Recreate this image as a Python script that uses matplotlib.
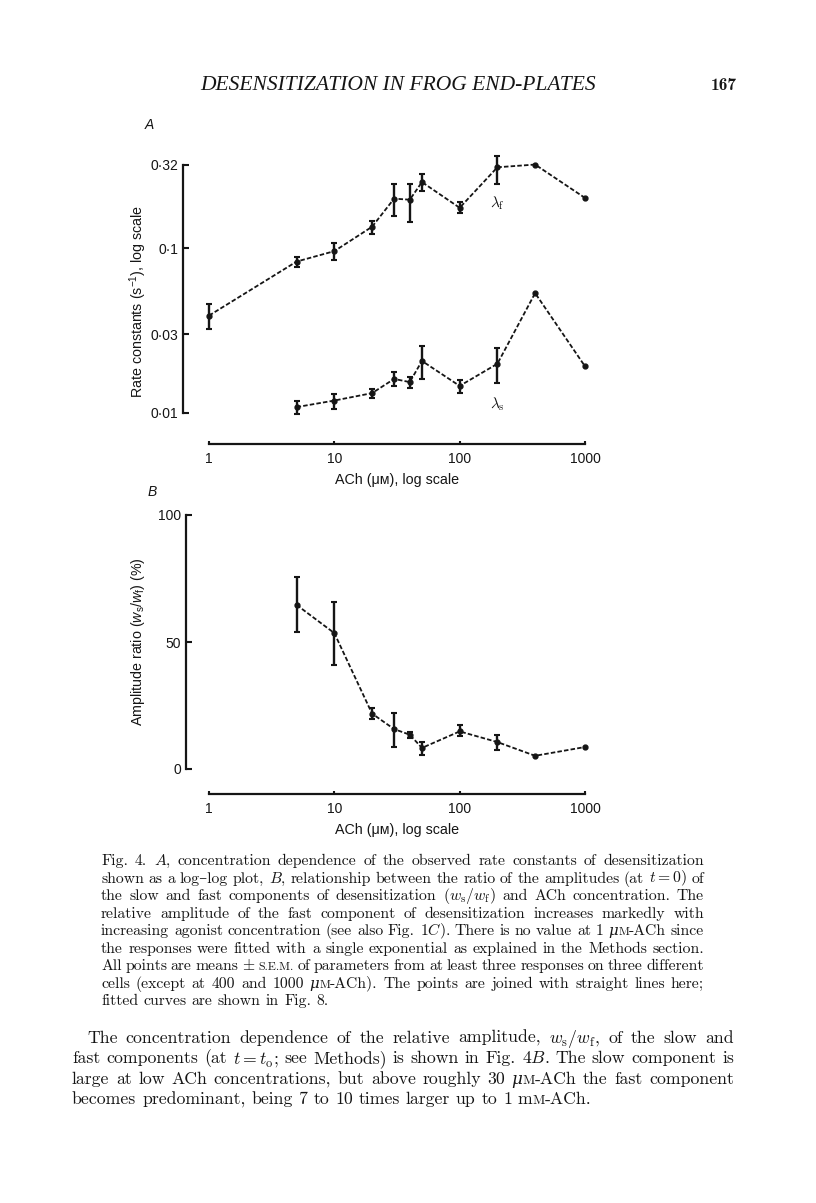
import numpy as np
import matplotlib
matplotlib.use('Agg')
import matplotlib.pyplot as plt
from matplotlib.ticker import NullLocator

W, H = 816, 1203
INK = '#151515'

# ---------------- data ----------------
conc_fast = [1, 5, 10, 20, 30, 40, 50, 100, 200, 400, 1000]
lam_fast = [0.039, 0.083, 0.096, 0.135, 0.200, 0.197, 0.252, 0.176, 0.310, 0.322, 0.202]
lam_fast_lo = [0.0323, 0.0764, 0.0846, 0.1227, 0.1567, 0.144, 0.222, 0.164, 0.2465, np.nan, np.nan]
lam_fast_hi = [0.0459, 0.089, 0.107, 0.146, 0.247, 0.246, 0.283, 0.192, 0.3635, np.nan, np.nan]

conc_slow = [5, 10, 20, 30, 40, 50, 100, 200, 400, 1000]
lam_slow = [0.01086, 0.0119, 0.0132, 0.0161, 0.0154, 0.0207, 0.0146, 0.0199, 0.0534, 0.0192]
lam_slow_lo = [0.0099, 0.0106, 0.01236, 0.0145, 0.0141, 0.0161, 0.0132, 0.0153, np.nan, np.nan]
lam_slow_hi = [0.01183, 0.0131, 0.01406, 0.0177, 0.0165, 0.0255, 0.0159, 0.0248, np.nan, np.nan]

conc_ratio = [5, 10, 20, 30, 40, 50, 100, 200, 400, 1000]
ratio = [64.6, 53.5, 21.8, 15.7, 13.5, 8.3, 14.8, 10.6, 5.2, 8.65]
ratio_lo = [53.9, 41.0, 19.8, 8.65, 12.2, 5.4, 12.8, 7.3, np.nan, np.nan]
ratio_hi = [75.6, 65.9, 24.0, 22.0, 14.5, 10.6, 17.3, 13.2, np.nan, np.nan]

x_ticks = [1, 10, 100, 1000]
x_ticklabels = ['1', '10', '100', '1000']
yA_ticks = [0.01, 0.03, 0.1, 0.32]
yA_ticklabels = ['0\u00b701', '0\u00b703', '0\u00b71', '0\u00b732']
yB_ticks = [0, 50, 100]
yB_ticklabels = ['0', '50', '100']

header_title = 'DESENSITIZATION IN FROG END-PLATES'
page_number = '167'

# '|' separates pieces of one word, '~' marks a small-capital piece, '^' an italic piece
caption_lines = [
    r"Fig. 4. $A$, concentration dependence of the observed rate constants of desensitization",
    "shown as a log\u2013log plot, " + r"$B$, relationship between the ratio of the amplitudes (at $t=0$) of",
    r"the slow and fast components of desensitization $(w_\mathrm{s}/w_\mathrm{f})$ and ACh concentration. The",
    r"relative amplitude of the fast component of desensitization increases markedly with",
    r"increasing agonist concentration (see also Fig. 1$C$). There is no value at 1 " + "^\u03bc|~M|-ACh since",
    r"the responses were fitted with a single exponential as explained in the Methods section.",
    r"All points are means $\pm$ ~S.E.M. of parameters from at least three responses on three different",
    "cells (except at 400 and 1000 ^\u03bc|~M|-ACh). The points are joined with straight lines here;",
    r"fitted curves are shown in Fig. 8.",
]
body_lines = [
    r"The concentration dependence of the relative amplitude, $w_\mathrm{s}/w_\mathrm{f}$, of the slow and",
    r"fast components (at $t=t_\mathrm{o}$; see Methods) is shown in Fig. 4$B$. The slow component is",
    "large at low ACh concentrations, but above roughly 30 ^\u03bc|~M|-ACh the fast component",
    "becomes predominant, being 7 to 10 times larger up to 1 m|~M|-ACh.",
]

# ---------------- style ----------------
plt.rcParams['mathtext.fontset'] = 'cm'
plt.rcParams['mathtext.rm'] = 'Liberation Sans'
plt.rcParams['mathtext.it'] = 'Liberation Sans:italic'
plt.rcParams['mathtext.bf'] = 'Liberation Sans:bold'
SANS = ['Liberation Sans', 'DejaVu Sans']
SERIF = ['cmr10', 'DejaVu Serif']
plt.rcParams['font.family'] = SANS
plt.rcParams['axes.formatter.use_mathtext'] = True

fig = plt.figure(figsize=(W / 100, H / 100), dpi=100)
fig.patch.set_facecolor('white')


def fx(x):
    return x / W


def fy(y):
    return 1 - y / H


def rect(x0, y0, x1, y1):
    return [x0 / W, 1 - y1 / H, (x1 - x0) / W, (y1 - y0) / H]


def style_axes(ax, left_px, bottom_px):
    for s in ['top', 'right']:
        ax.spines[s].set_visible(False)
    for s in ['left', 'bottom']:
        ax.spines[s].set_linewidth(1.6)
        ax.spines[s].set_color(INK)
    ax.spines['left'].set_position(('outward', left_px * 0.72))
    ax.spines['bottom'].set_position(('outward', bottom_px * 0.72))
    ax.set_facecolor('none')
    ax.tick_params(axis='y', direction='in', length=4, width=1.5, pad=3.5,
                   labelsize=10, colors=INK)
    ax.tick_params(axis='x', direction='in', length=2.5, width=1.5, pad=6,
                   labelsize=10, colors=INK)
    ax.set_xscale('log')
    ax.set_xlim(1, 1000)
    ax.set_xticks(x_ticks)
    ax.set_xticklabels(x_ticklabels)
    ax.xaxis.set_minor_locator(NullLocator())


def series(ax, x, y, lo, hi):
    x = np.asarray(x, float)
    y = np.asarray(y, float)
    lo = np.asarray(lo, float)
    hi = np.asarray(hi, float)
    ax.plot(x, y, ls=(0, (2.5, 1.2)), lw=1.3, color=INK, marker='o', ms=3.5,
            mfc=INK, mec=INK, clip_on=False, zorder=3)
    m = ~np.isnan(lo)
    cont = ax.errorbar(x[m], y[m], yerr=[y[m] - lo[m], hi[m] - y[m]], fmt='none',
                       ecolor=INK, elinewidth=1.7, capsize=2.3, capthick=1.5, zorder=4)
    for art in cont.get_children():
        art.set_clip_on(False)


# ---------------- panel A ----------------
axA = fig.add_axes(rect(209, 165, 585, 413))
style_axes(axA, 26, 31)
axA.set_yscale('log')
axA.set_ylim(0.01, 0.32)
axA.set_yticks(yA_ticks)
axA.set_yticklabels(yA_ticklabels)
axA.yaxis.set_minor_locator(NullLocator())
series(axA, conc_fast, lam_fast, lam_fast_lo, lam_fast_hi)
series(axA, conc_slow, lam_slow, lam_slow_lo, lam_slow_hi)
axA.text(200, 0.187, r'$\lambda_\mathrm{f}$', ha='center', va='center', fontsize=11, color=INK)
axA.text(200, 0.0113, r'$\lambda_\mathrm{s}$', ha='center', va='center', fontsize=11, color=INK)

# ---------------- panel B ----------------
axB = fig.add_axes(rect(209, 515, 585, 769))
style_axes(axB, 23, 25)
axB.set_ylim(0, 100)
axB.set_yticks(yB_ticks)
axB.set_yticklabels(yB_ticklabels)
series(axB, conc_ratio, ratio, ratio_lo, ratio_hi)

# ---------------- chart labels ----------------
fig.text(fx(149), fy(125), 'A', style='italic', fontsize=10, ha='center', va='center', color=INK)
fig.text(fx(152), fy(492), 'B', style='italic', fontsize=10, ha='center', va='center', color=INK)
fig.text(fx(397), fy(480), 'ACh (\u03bc\u043c), log scale', fontsize=10.3, ha='center', va='center', color=INK)
fig.text(fx(397), fy(830), 'ACh (\u03bc\u043c), log scale', fontsize=10.3, ha='center', va='center', color=INK)
fig.text(fx(138), fy(301), r'Rate constants (s$^{-1}$), log scale', rotation=90, fontsize=10.3,
         ha='center', va='center', color=INK, math_fontfamily='custom')
fig.text(fx(138), fy(642), r'Amplitude ratio ($w_\mathrm{s}/w_\mathrm{f}$) (%)', rotation=90, fontsize=10.3,
         ha='center', va='center', color=INK, math_fontfamily='custom')

# ---------------- page text ----------------
renderer = fig.canvas.get_renderer()


def make_word(word, size):
    parts = []
    for seg in word.split('|'):
        if seg == '':
            continue
        if seg.startswith('~'):
            t = fig.text(0, 0, seg[1:], fontsize=size * 0.76, family=SERIF, va='baseline', color=INK)
        elif seg.startswith('^'):
            t = fig.text(0, 0, seg[1:], fontsize=size * 0.95, family=['DejaVu Serif'], style='italic',
                         va='baseline', color=INK)
        else:
            t = fig.text(0, 0, seg, fontsize=size, family=SERIF, va='baseline', color=INK)
        w = t.get_window_extent(renderer=renderer).width
        parts.append((t, w))
    return parts


def fit_size(lines, width, s0=10.0):
    space = 0.33 * s0 * 100 / 72
    ratios = []
    for line in lines[:-1]:
        words = [make_word(w, s0) for w in line.split(' ')]
        total = sum(w for parts in words for _, w in parts) + space * (len(words) - 1)
        ratios.append(width / total)
        for parts in words:
            for t, _ in parts:
                t.remove()
    return s0 * float(np.median(ratios)) * 0.99


def draw_paragraph(lines, x_left, x_right, y_base0, dy, size, indent=0):
    space_px = 0.33 * size * 100 / 72
    for i, line in enumerate(lines):
        words = [make_word(w, size) for w in line.split(' ')]
        widths = [sum(w for _, w in parts) for parts in words]
        x0 = x_left + (indent if i == 0 else 0)
        if i < len(lines) - 1 and len(words) > 1:
            gap = (x_right - x0 - sum(widths)) / (len(words) - 1)
            gap = max(gap, 0.2 * size * 100 / 72)
        else:
            gap = space_px
        x = x0
        yb = y_base0 + i * dy
        for parts, wsum in zip(words, widths):
            xx = x
            for t, w in parts:
                t.set_position((fx(xx), fy(yb)))
                xx += w
            x += wsum + gap


cap_size = fit_size(caption_lines, 704 - 101)
draw_paragraph(caption_lines, 101, 704, 865, 17.55, cap_size)
body_size = fit_size(body_lines[1:], 734 - 72)
draw_paragraph(body_lines, 72, 734, 1043, 20.4, body_size, indent=15)

# header
ht = fig.text(fx(200), fy(90), header_title, family=['Liberation Serif'], style='italic',
              fontsize=12, va='baseline', ha='left', color=INK)
hw = ht.get_window_extent(renderer=renderer).width
ht.set_fontsize(12 * 395 / hw)
fig.text(fx(737), fy(90), page_number, family=['cmb10', 'DejaVu Serif'], fontsize=12.5,
         va='baseline', ha='right', color=INK)

fig.savefig('out.png', dpi=100, facecolor='white')
